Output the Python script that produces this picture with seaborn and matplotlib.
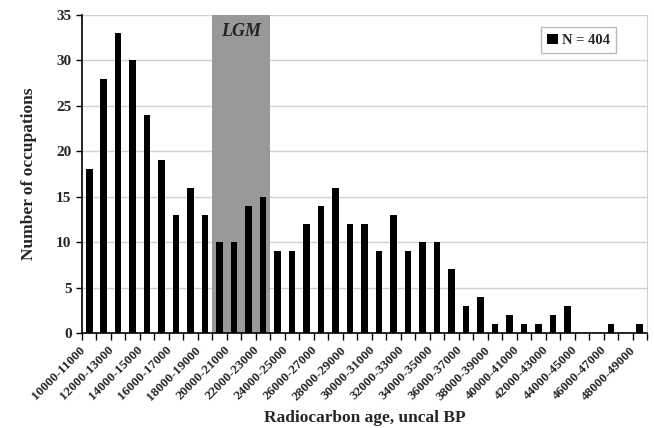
import numpy as np
import pandas as pd
import seaborn as sns
import matplotlib.pyplot as plt
import matplotlib.transforms as mtransforms
from matplotlib.ticker import FixedLocator

# data
bin_starts = list(range(10000, 49000, 1000))
bins = [f"{s}-{s+1000}" for s in bin_starts]
counts = [18, 28, 33, 30, 24, 19, 13, 16, 13, 10, 10, 14, 15, 9, 9, 12, 14, 16, 12, 12,
          9, 13, 9, 10, 10, 7, 3, 4, 1, 2, 1, 1, 2, 3, 0, 0, 1, 0, 1]
lgm_first, lgm_last = 9, 12  # bins inside the LGM window

df = pd.DataFrame({"Bin": bins, "Count": counts})

sns.set_style("white")
plt.rcParams['font.family'] = ['Liberation Serif', 'DejaVu Serif']
plt.rcParams['font.weight'] = 'bold'

fig = plt.figure(figsize=(6.54, 4.28), dpi=100)
ax = fig.add_axes([82/654, 1-333/428, 565/654, 318/428])

ax.axvspan(lgm_first - 0.5, lgm_last + 0.5, color="#999999", zorder=0, lw=0)
ax.text((lgm_first + lgm_last) / 2, 33.2, "LGM", ha="center", va="center",
        fontsize=13, fontweight="bold", style="italic", color="#222222", zorder=3)

for y in range(5, 40, 5):
    ax.axhline(y, color="#d0d0d0", lw=1, zorder=0.5)

sns.barplot(data=df, x="Bin", y="Count", color="black", width=0.45,
            saturation=1, ax=ax, label="N = 404", edgecolor="black", linewidth=0)
for p in ax.patches:
    p.set_zorder(2)

ax.set_xlim(-0.5, len(bins) - 0.5)
ax.set_ylim(0, 35)
ax.set_yticks(range(0, 40, 5))
ax.tick_params(axis="y", labelsize=11, length=4, width=1, color="black", left=True)

major = list(range(0, len(bins), 2))
ax.set_xticks(major)
ax.set_xticklabels([bins[i] for i in major], rotation=45, ha="right", va="center",
                   rotation_mode="anchor", fontsize=9.5)
ax.tick_params(axis="x", which="major", length=0, pad=11)
shift = mtransforms.ScaledTranslation(-6/100, 0, fig.dpi_scale_trans)
for lab in ax.get_xticklabels():
    lab.set_transform(lab.get_transform() + shift)
ax.xaxis.set_minor_locator(FixedLocator(np.arange(-0.5, len(bins), 1.0)))
ax.tick_params(axis="x", which="minor", length=5, width=1, color="black", bottom=True)

ax.spines["top"].set_visible(False)
ax.spines["right"].set_color("#d0d0d0")
ax.spines["left"].set_color("black")
ax.spines["bottom"].set_color("black")
ax.spines["left"].set_linewidth(1.2)
ax.spines["bottom"].set_linewidth(1.2)

ax.set_xlabel("Radiocarbon age, uncal BP", fontsize=12.5, fontweight="bold")
ax.xaxis.set_label_coords(0.5, -(410 - 333) / 318)
ax.set_ylabel("Number of occupations", fontsize=12.5, fontweight="bold", labelpad=14)

leg = ax.legend(loc="upper right", bbox_to_anchor=(0.946, 0.962), frameon=True,
                fancybox=False, edgecolor="#aaaaaa", fontsize=10.5,
                handlelength=0.7, handleheight=0.7, handletextpad=0.3,
                borderpad=0.45, borderaxespad=0)
leg.get_frame().set_linewidth(1)

fig.savefig("out.png", dpi=100)
